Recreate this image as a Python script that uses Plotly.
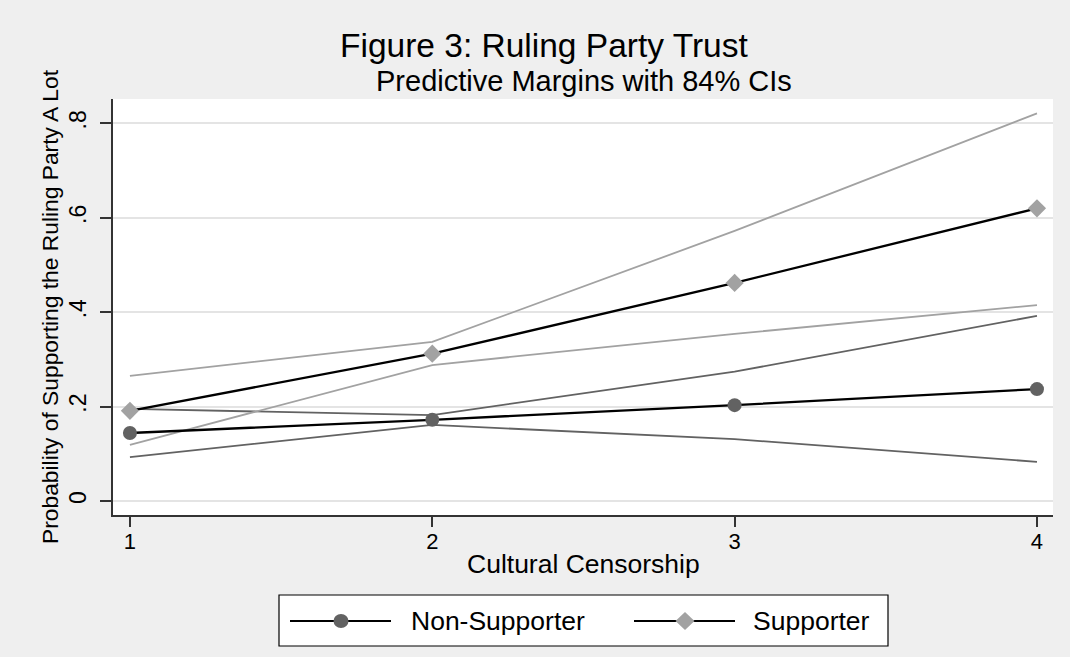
import plotly.graph_objects as go

# Predictive margins of "supports the ruling party a lot", by cultural censorship level
censorship = [1, 2, 3, 4]
x_ticks = [1, 2, 3, 4]
y_ticks = [0, 0.2, 0.4, 0.6, 0.8]
y_tick_text = ["0", ".2", ".4", ".6", ".8"]

nonsup_margin = [0.144, 0.172, 0.203, 0.237]
nonsup_lo = [0.093, 0.161, 0.131, 0.083]
nonsup_hi = [0.195, 0.182, 0.274, 0.392]

sup_margin = [0.191, 0.312, 0.462, 0.620]
sup_lo = [0.119, 0.288, 0.354, 0.415]
sup_hi = [0.265, 0.337, 0.572, 0.821]

series_names = ["Non-Supporter", "Supporter"]

W, H = 1070, 657
ML, MR, MT, MB = 113, 17, 99, 142
PW, PH = W - ML - MR, H - MT - MB

FONT = "Liberation Sans, Arial, Helvetica, sans-serif"
BG = "#efefef"
AXIS = "#333333"
DARK = "#626262"
LIGHT = "#a2a2a2"


def px_x(px):
    return (px - ML) / PW


def px_y(py):
    return (H - MB - py) / PH


fig = go.Figure()

# confidence bounds
for ys, col in [(nonsup_lo, DARK), (nonsup_hi, DARK), (sup_lo, LIGHT), (sup_hi, LIGHT)]:
    fig.add_trace(go.Scatter(
        x=censorship, y=ys, mode="lines",
        line=dict(color=col, width=1.8),
        showlegend=False, hoverinfo="skip",
    ))

# margin lines with markers
fig.add_trace(go.Scatter(
    x=censorship, y=nonsup_margin, mode="lines+markers", name=series_names[0],
    line=dict(color="#000000", width=2.3),
    marker=dict(symbol="circle", size=14, color=DARK, line=dict(width=0)),
    showlegend=False,
))
fig.add_trace(go.Scatter(
    x=censorship, y=sup_margin, mode="lines+markers", name=series_names[1],
    line=dict(color="#000000", width=2.3),
    marker=dict(symbol="diamond", size=14, color=LIGHT, line=dict(width=0)),
    showlegend=False,
))

shapes = []
annotations = []

# legend box drawn below the plot
shapes.append(dict(
    type="rect", xref="paper", yref="paper",
    x0=px_x(279), x1=px_x(888), y0=px_y(646), y1=px_y(595),
    fillcolor="#ffffff", line=dict(color="#000000", width=1.2), layer="above",
))
legend_items = [
    (series_names[0], 290, 391, 341, 409, "circle", DARK),
    (series_names[1], 634, 735, 685, 751, "diamond", LIGHT),
]
ly = px_y(621)
for name, lx0, lx1, mx, tx, sym, col in legend_items:
    shapes.append(dict(
        type="line", xref="paper", yref="paper",
        x0=px_x(lx0), x1=px_x(lx1), y0=ly, y1=ly,
        line=dict(color="#000000", width=2), layer="above",
    ))
    if sym == "circle":
        shapes.append(dict(
            type="circle", xref="paper", yref="paper",
            xsizemode="pixel", ysizemode="pixel",
            xanchor=px_x(mx), yanchor=ly,
            x0=-7.5, x1=7.5, y0=-7, y1=7,
            fillcolor=col, line=dict(width=0), layer="above",
        ))
    else:
        shapes.append(dict(
            type="path", xref="paper", yref="paper",
            xsizemode="pixel", ysizemode="pixel",
            xanchor=px_x(mx), yanchor=ly,
            path="M -9.5 0 L 0 9 L 9.5 0 L 0 -9 Z",
            fillcolor=col, line=dict(width=0), layer="above",
        ))
    annotations.append(dict(
        text=name, xref="paper", yref="paper",
        x=px_x(tx), y=ly, xanchor="left", yanchor="middle",
        showarrow=False, font=dict(family=FONT, size=26.5, color="#000000"),
    ))

# titles
annotations.append(dict(
    text="Figure 3: Ruling Party Trust", xref="paper", yref="paper",
    x=px_x(544), y=px_y(46), xanchor="center", yanchor="middle",
    showarrow=False, font=dict(family=FONT, size=33.5, color="#000000"),
))
annotations.append(dict(
    text="Predictive Margins with 84% CIs", xref="paper", yref="paper",
    x=px_x(584), y=px_y(81), xanchor="center", yanchor="middle",
    showarrow=False, font=dict(family=FONT, size=29, color="#000000"),
))
annotations.append(dict(
    text="Probability of Supporting the Ruling Party A Lot", xref="paper", yref="paper",
    x=px_x(50), y=px_y(307), xanchor="center", yanchor="middle", textangle=-90,
    showarrow=False, font=dict(family=FONT, size=22.8, color="#000000"),
))
annotations.append(dict(
    text="Cultural Censorship", xref="paper", yref="paper",
    x=px_x(583), y=px_y(564), xanchor="center", yanchor="middle",
    showarrow=False, font=dict(family=FONT, size=26.5, color="#000000"),
))

fig.update_layout(
    width=W, height=H,
    margin=dict(l=ML, r=MR, t=MT, b=MB, pad=0),
    paper_bgcolor=BG, plot_bgcolor="#ffffff",
    font=dict(family=FONT, color="#000000"),
    showlegend=False,
    shapes=shapes, annotations=annotations,
    xaxis=dict(
        range=[0.944, 4.053], tickvals=x_ticks, ticktext=[str(v) for v in x_ticks],
        ticks="outside", ticklen=10, tickwidth=1.5, tickcolor=AXIS,
        ticklabelstandoff=-4,
        showline=True, linecolor=AXIS, linewidth=1.8,
        showgrid=False, zeroline=False,
        tickfont=dict(family=FONT, size=22, color="#000000"),
    ),
    yaxis=dict(
        range=[-0.0297, 0.8515], tickvals=y_ticks, ticktext=y_tick_text,
        tickangle=-90, ticklabelstandoff=5,
        ticks="outside", ticklen=11, tickwidth=1.5, tickcolor=AXIS,
        showline=True, linecolor=AXIS, linewidth=1.8,
        showgrid=True, gridcolor="#e4e4e4", gridwidth=1.5, zeroline=False,
        tickfont=dict(family=FONT, size=23, color="#000000"),
    ),
)

fig.write_html("out.html")
